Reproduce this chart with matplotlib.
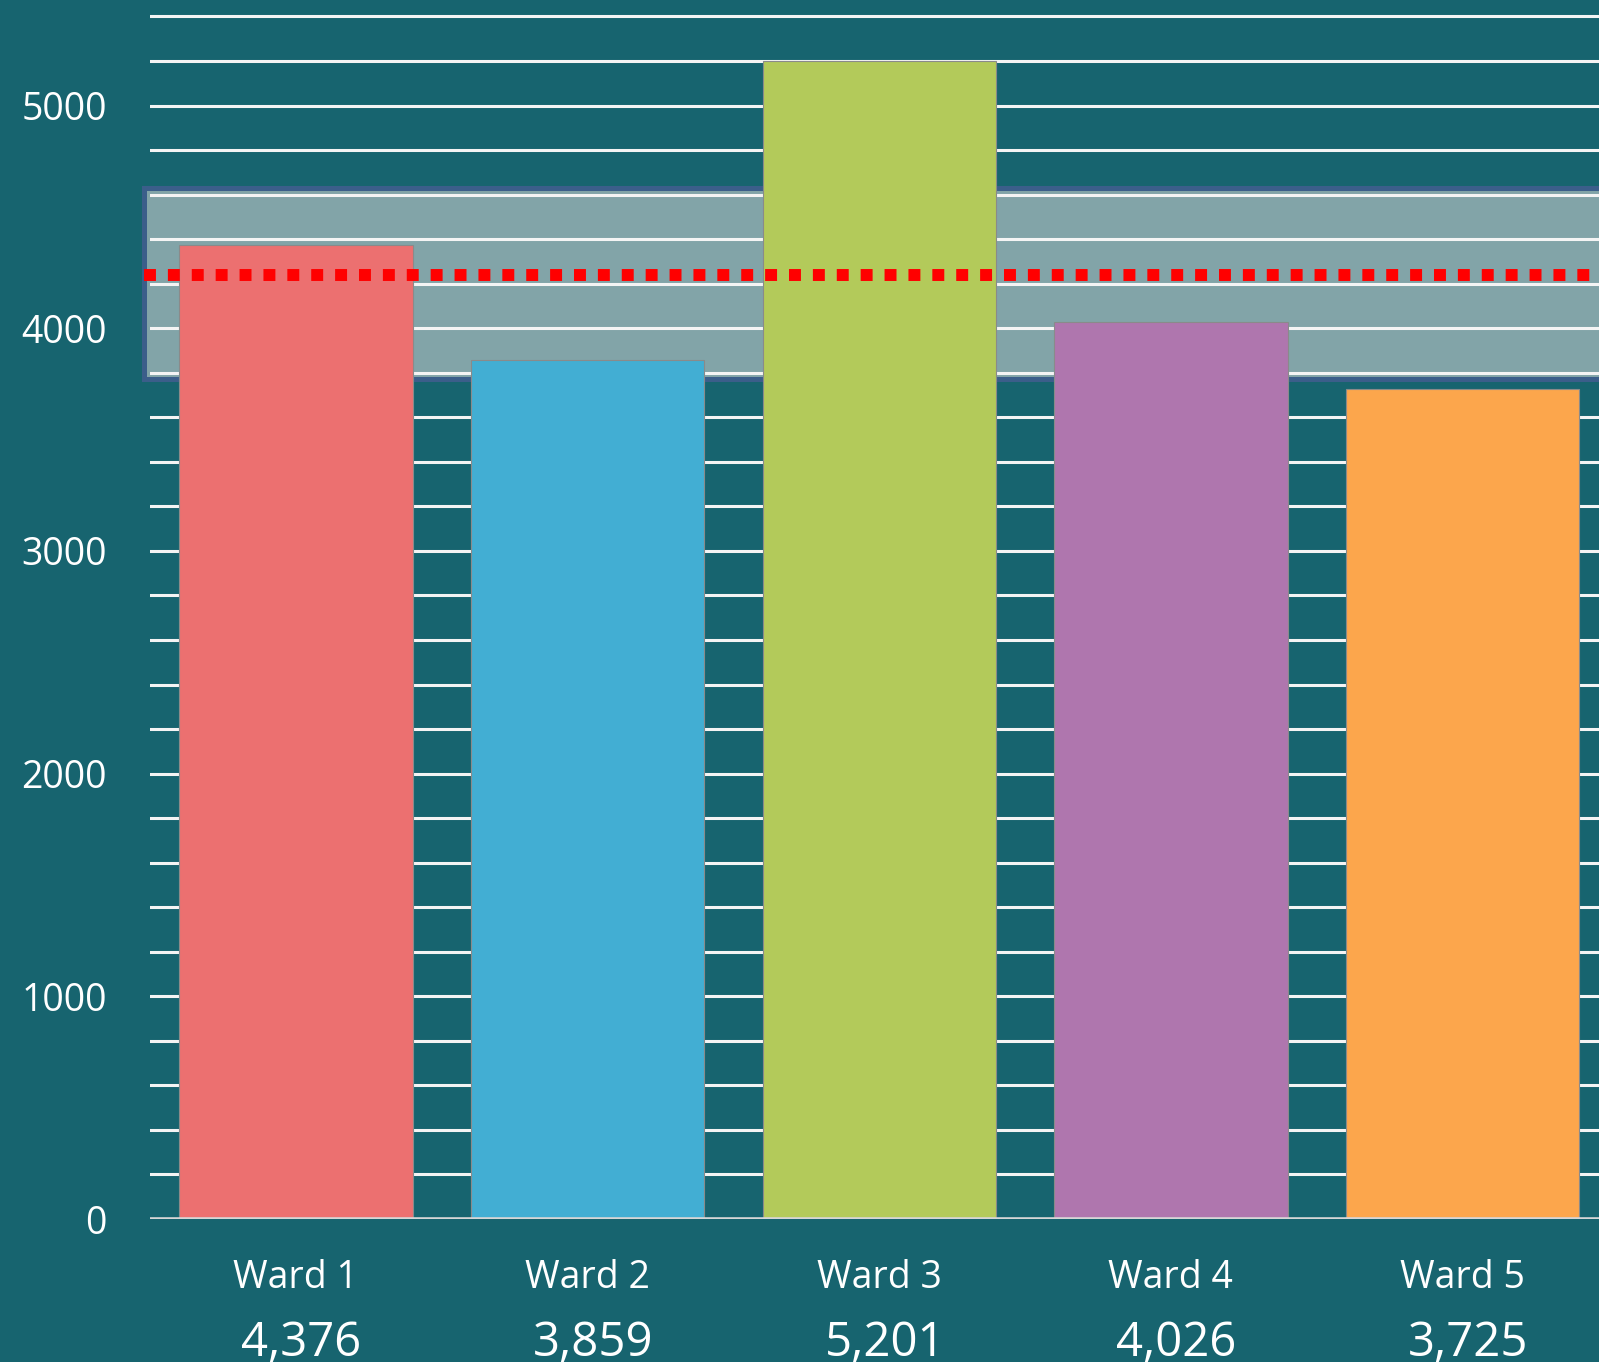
import matplotlib
matplotlib.use('Agg')
import matplotlib.pyplot as plt
import numpy as np
from matplotlib.patches import Rectangle

plt.rcParams['font.family'] = ['Open Sans', 'DejaVu Sans']

BG = '#17646F'

wards = ['Ward 1', 'Ward 2', 'Ward 3', 'Ward 4', 'Ward 5']
values = [4376, 3859, 5201, 4026, 3725]
colors = ['#EC7070', '#42AED3', '#B3CA5A', '#AF76AE', '#FCA64C']

# target band and average line
band_low = 3770
band_high = 4630
avg = np.mean(values)

fig = plt.figure(figsize=(15.99, 13.62), dpi=100, facecolor=BG)
ax = fig.add_axes([150 / 1599, 143 / 1362, 1 - 150 / 1599, 1 - 143 / 1362])
ax.set_facecolor(BG)

x = np.arange(len(wards))
ax.set_xlim(-0.5, 4.468)
ax.set_ylim(0, 5474)

# gridlines every 200
for y in range(200, 5401, 200):
    ax.axhline(y, color='#F4F4F4', lw=2.2, zorder=2)
ax.axhline(0, color='#D6D6D6', lw=2.6, zorder=4)

# shaded band, starts a little left of the plot area
band = Rectangle((-0.52, band_low), 6, band_high - band_low,
                 facecolor='#82A4A8', edgecolor='#3B5E8A', lw=3.6,
                 zorder=1, clip_on=False)
ax.add_patch(band)

ax.bar(x, values, width=0.8, color=colors, edgecolor='#8A8A8A', lw=0.8, zorder=3)

ax.plot([-0.52, 4.8], [avg, avg], color='#FF0000', lw=8.6,
        dashes=(1, 1), dash_capstyle='butt', zorder=5, clip_on=False)

for s in ax.spines.values():
    s.set_visible(False)

ax.set_yticks(range(0, 5001, 1000))
ax.set_yticklabels([str(v) for v in range(0, 5001, 1000)])
ax.tick_params(axis='y', length=0, pad=31, labelsize=27, labelcolor='white')
ax.set_xticks([])

for xi, name, v in zip(x, wards, values):
    ax.annotate(name, xy=(xi, 0), xytext=(0, -49.5), textcoords='offset points',
                ha='center', va='baseline', fontsize=27, color='white',
                annotation_clip=False)
    ax.annotate(f'{v:,}', xy=(xi, 0), xytext=(4, -99), textcoords='offset points',
                ha='center', va='baseline', fontsize=34, color='white',
                annotation_clip=False)

fig.savefig('out.png', dpi=100, facecolor=BG)
